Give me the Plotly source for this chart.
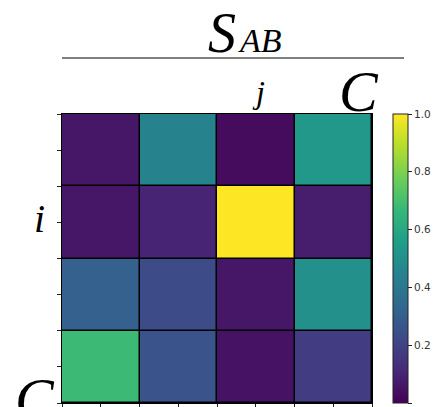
import plotly.graph_objects as go

W, H = 435, 407

# data (rows top to bottom, columns left to right)
row_labels = ["r0", "r1", "r2", "r3"]
col_labels = ["c0", "c1", "c2", "c3"]
row0 = [0.06, 0.45, 0.03, 0.53]
row1 = [0.06, 0.10, 1.00, 0.08]
row2 = [0.31, 0.23, 0.06, 0.50]
row3 = [0.68, 0.26, 0.05, 0.18]
z = [row0, row1, row2, row3]
cbar_ticks = [0.0, 0.2, 0.4, 0.6, 0.8, 1.0]

def px(x):
    return x / W

def py(y):
    return 1 - y / H

L, R, T, B = 62, 372, 114, 403

fig = go.Figure(go.Heatmap(
    z=z,
    x=list(range(len(col_labels))),
    y=list(range(len(row_labels))),
    colorscale="Viridis",
    zmin=0, zmax=1,
    xgap=1.5, ygap=1.5,
    showscale=True,
    hoverinfo="skip",
    colorbar=dict(
        x=px(393), xanchor="left",
        y=py(B), yanchor="bottom",
        len=(B - T) / H, lenmode="fraction",
        thickness=15, thicknessmode="pixels",
        outlinewidth=1, outlinecolor="#222",
        tickvals=cbar_ticks, tickformat=".1f",
        ticks="outside", ticklen=4, tickcolor="#222",
        tickfont=dict(family="DejaVu Sans", size=10.5, color="#333"),
        xpad=0, ypad=0,
    ),
))

half_ticks = [i * 0.5 - 0.5 for i in range(9)]
fig.update_layout(
    width=W, height=H,
    margin=dict(l=0, r=0, t=0, b=0),
    paper_bgcolor="white",
    plot_bgcolor="black",
    xaxis=dict(domain=[px(L), px(R)], range=[-0.5, 3.5], showgrid=False, zeroline=False,
               tickvals=half_ticks, showticklabels=False, ticks="outside", ticklen=4,
               tickcolor="#222", showline=True, linecolor="black", linewidth=1, mirror=True),
    yaxis=dict(domain=[py(B), py(T)], range=[3.5, -0.5], showgrid=False, zeroline=False,
               tickvals=half_ticks, showticklabels=False, ticks="outside", ticklen=4,
               tickcolor="#222", showline=True, linecolor="black", linewidth=1, mirror=True),
    shapes=[dict(type="line", xref="paper", yref="paper", x0=px(62), x1=px(404),
                 y0=py(58), y1=py(58), line=dict(color="#555", width=1.5))],
)

serif = "Liberation Serif"
anns = [
    ("<i>S</i>", 222, 33, 56),
    ("<i>AB</i>", 260, 40, 34),
    ("<i>j</i>", 258, 92, 32),
    ("<i>C</i>", 359, 92, 58),
    ("<i>i</i>", 39, 219, 40),
    ("<i>C</i>", 35, 398, 58),
]
for text, x, y, s in anns:
    fig.add_annotation(text=text, xref="paper", yref="paper", x=px(x), y=py(y),
                       xanchor="center", yanchor="middle", showarrow=False,
                       font=dict(family=serif, size=s, color="black"))

fig.write_html("out.html", config={"displayModeBar": False},
               post_script="document.body.style.margin='0';document.body.style.overflow='hidden';")
